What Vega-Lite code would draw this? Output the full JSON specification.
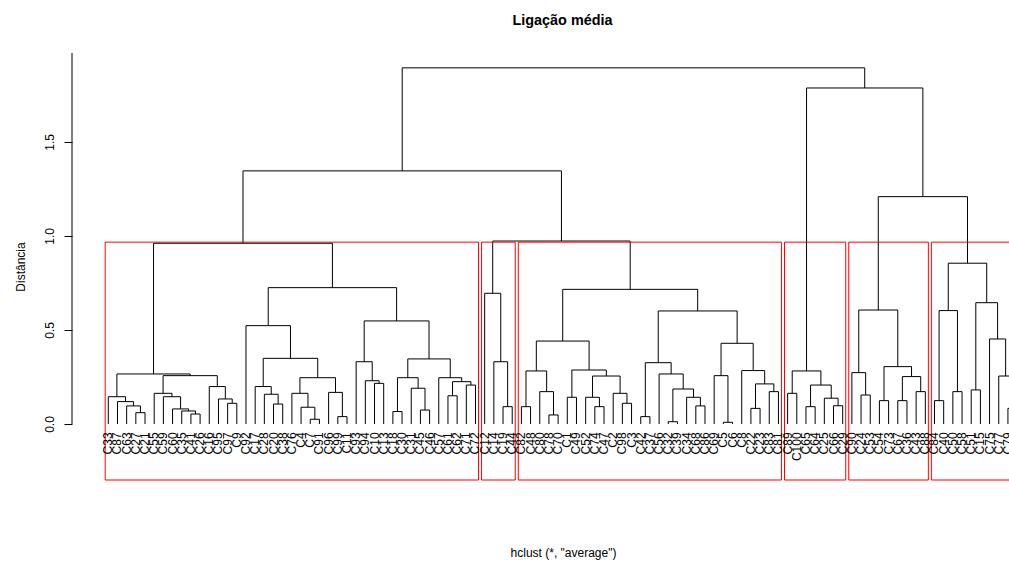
{
  "$schema": "https://vega.github.io/schema/vega-lite/v6.json",
  "width": 937,
  "height": 427,
  "autosize": {"type": "none"},
  "padding": {"left": 72, "top": 53, "right": 0, "bottom": 81},
  "background": "white",
  "config": {"view": {"stroke": null}},
  "title": {"text": "Ligação média", "font": "Liberation Sans", "fontSize": 14.4, "fontWeight": "bold", "color": "black", "anchor": "middle", "dx": 22, "offset": 24},
  "datasets": {
    "merges": [
      {"xl":4,"hl":0,"xr":5,"hr":0,"h":0.060},
      {"xl":3,"hl":0,"xr":4.5,"hr":0.060,"h":0.096},
      {"xl":2,"hl":0,"xr":3.75,"hr":0.096,"h":0.119},
      {"xl":1,"hl":0,"xr":2.875,"hr":0.119,"h":0.145},
      {"xl":10,"hl":0,"xr":11,"hr":0,"h":0.053},
      {"xl":9,"hl":0,"xr":10.5,"hr":0.053,"h":0.069},
      {"xl":8,"hl":0,"xr":9.75,"hr":0.069,"h":0.080},
      {"xl":7,"hl":0,"xr":8.875,"hr":0.080,"h":0.145},
      {"xl":6,"hl":0,"xr":7.9375,"hr":0.145,"h":0.163},
      {"xl":14,"hl":0,"xr":15,"hr":0,"h":0.110},
      {"xl":13,"hl":0,"xr":14.5,"hr":0.110,"h":0.133},
      {"xl":12,"hl":0,"xr":13.75,"hr":0.133,"h":0.199},
      {"xl":6.96875,"hl":0.163,"xr":12.875,"hr":0.199,"h":0.257},
      {"xl":1.9375,"hl":0.145,"xr":9.921875,"hr":0.257,"h":0.266},
      {"xl":19,"hl":0,"xr":20,"hr":0,"h":0.106},
      {"xl":18,"hl":0,"xr":19.5,"hr":0.106,"h":0.158},
      {"xl":17,"hl":0,"xr":18.75,"hr":0.158,"h":0.199},
      {"xl":23,"hl":0,"xr":24,"hr":0,"h":0.025},
      {"xl":22,"hl":0,"xr":23.5,"hr":0.025,"h":0.089},
      {"xl":21,"hl":0,"xr":22.75,"hr":0.089,"h":0.163},
      {"xl":26,"hl":0,"xr":27,"hr":0,"h":0.039},
      {"xl":25,"hl":0,"xr":26.5,"hr":0.039,"h":0.168},
      {"xl":21.875,"hl":0.163,"xr":25.75,"hr":0.168,"h":0.246},
      {"xl":17.875,"hl":0.199,"xr":23.8125,"hr":0.246,"h":0.349},
      {"xl":16,"hl":0,"xr":20.84375,"hr":0.349,"h":0.523},
      {"xl":30,"hl":0,"xr":31,"hr":0,"h":0.216},
      {"xl":29,"hl":0,"xr":30.5,"hr":0.216,"h":0.230},
      {"xl":28,"hl":0,"xr":29.75,"hr":0.230,"h":0.331},
      {"xl":32,"hl":0,"xr":33,"hr":0,"h":0.066},
      {"xl":35,"hl":0,"xr":36,"hr":0,"h":0.074},
      {"xl":34,"hl":0,"xr":35.5,"hr":0.074,"h":0.190},
      {"xl":32.5,"hl":0.066,"xr":34.75,"hr":0.190,"h":0.246},
      {"xl":38,"hl":0,"xr":39,"hr":0,"h":0.150},
      {"xl":40,"hl":0,"xr":41,"hr":0,"h":0.207},
      {"xl":38.5,"hl":0.150,"xr":40.5,"hr":0.207,"h":0.225},
      {"xl":37,"hl":0,"xr":39.5,"hr":0.225,"h":0.246},
      {"xl":33.625,"hl":0.246,"xr":38.25,"hr":0.246,"h":0.346},
      {"xl":28.875,"hl":0.331,"xr":35.9375,"hr":0.346,"h":0.548},
      {"xl":18.421875,"hl":0.523,"xr":32.40625,"hr":0.548,"h":0.725},
      {"xl":5.9296875,"hl":0.266,"xr":25.4140625,"hr":0.725,"h":0.961},
      {"xl":44,"hl":0,"xr":45,"hr":0,"h":0.092},
      {"xl":43,"hl":0,"xr":44.5,"hr":0.092,"h":0.331},
      {"xl":42,"hl":0,"xr":43.75,"hr":0.331,"h":0.695},
      {"xl":46,"hl":0,"xr":47,"hr":0,"h":0.092},
      {"xl":49,"hl":0,"xr":50,"hr":0,"h":0.048},
      {"xl":48,"hl":0,"xr":49.5,"hr":0.048,"h":0.172},
      {"xl":46.5,"hl":0.092,"xr":48.75,"hr":0.172,"h":0.282},
      {"xl":51,"hl":0,"xr":52,"hr":0,"h":0.142},
      {"xl":54,"hl":0,"xr":55,"hr":0,"h":0.092},
      {"xl":53,"hl":0,"xr":54.5,"hr":0.092,"h":0.142},
      {"xl":57,"hl":0,"xr":58,"hr":0,"h":0.110},
      {"xl":56,"hl":0,"xr":57.5,"hr":0.110,"h":0.163},
      {"xl":53.75,"hl":0.142,"xr":56.75,"hr":0.163,"h":0.255},
      {"xl":51.5,"hl":0.142,"xr":55.25,"hr":0.255,"h":0.287},
      {"xl":47.625,"hl":0.282,"xr":53.375,"hr":0.287,"h":0.441},
      {"xl":59,"hl":0,"xr":60,"hr":0,"h":0.039},
      {"xl":62,"hl":0,"xr":63,"hr":0,"h":0.012},
      {"xl":65,"hl":0,"xr":66,"hr":0,"h":0.096},
      {"xl":64,"hl":0,"xr":65.5,"hr":0.096,"h":0.142},
      {"xl":62.5,"hl":0.012,"xr":64.75,"hr":0.142,"h":0.186},
      {"xl":61,"hl":0,"xr":63.625,"hr":0.186,"h":0.266},
      {"xl":59.5,"hl":0.039,"xr":62.3125,"hr":0.266,"h":0.326},
      {"xl":68,"hl":0,"xr":69,"hr":0,"h":0.009},
      {"xl":67,"hl":0,"xr":68.5,"hr":0.009,"h":0.257},
      {"xl":71,"hl":0,"xr":72,"hr":0,"h":0.083},
      {"xl":73,"hl":0,"xr":74,"hr":0,"h":0.172},
      {"xl":71.5,"hl":0.083,"xr":73.5,"hr":0.172,"h":0.213},
      {"xl":70,"hl":0,"xr":72.5,"hr":0.213,"h":0.284},
      {"xl":67.75,"hl":0.257,"xr":71.25,"hr":0.284,"h":0.429},
      {"xl":60.90625,"hl":0.326,"xr":69.5,"hr":0.429,"h":0.601},
      {"xl":50.5,"hl":0.441,"xr":65.203125,"hr":0.601,"h":0.716},
      {"xl":42.875,"hl":0.695,"xr":57.8515625,"hr":0.716,"h":0.973},
      {"xl":15.671875,"hl":0.961,"xr":50.36328125,"hr":0.973,"h":1.346},
      {"xl":75,"hl":0,"xr":76,"hr":0,"h":0.163},
      {"xl":77,"hl":0,"xr":78,"hr":0,"h":0.092},
      {"xl":80,"hl":0,"xr":81,"hr":0,"h":0.097},
      {"xl":79,"hl":0,"xr":80.5,"hr":0.097,"h":0.137},
      {"xl":77.5,"hl":0.092,"xr":79.75,"hr":0.137,"h":0.207},
      {"xl":75.5,"hl":0.163,"xr":78.625,"hr":0.207,"h":0.282},
      {"xl":83,"hl":0,"xr":84,"hr":0,"h":0.154},
      {"xl":82,"hl":0,"xr":83.5,"hr":0.154,"h":0.273},
      {"xl":85,"hl":0,"xr":86,"hr":0,"h":0.124},
      {"xl":87,"hl":0,"xr":88,"hr":0,"h":0.124},
      {"xl":89,"hl":0,"xr":90,"hr":0,"h":0.172},
      {"xl":87.5,"hl":0.124,"xr":89.5,"hr":0.172,"h":0.252},
      {"xl":85.5,"hl":0.124,"xr":88.5,"hr":0.252,"h":0.305},
      {"xl":82.75,"hl":0.273,"xr":87,"hr":0.305,"h":0.606},
      {"xl":91,"hl":0,"xr":92,"hr":0,"h":0.124},
      {"xl":93,"hl":0,"xr":94,"hr":0,"h":0.172},
      {"xl":91.5,"hl":0.124,"xr":93.5,"hr":0.172,"h":0.603},
      {"xl":95,"hl":0,"xr":96,"hr":0,"h":0.181},
      {"xl":99,"hl":0,"xr":100,"hr":0,"h":0.083},
      {"xl":98,"hl":0,"xr":99.5,"hr":0.083,"h":0.255},
      {"xl":97,"hl":0,"xr":98.75,"hr":0.255,"h":0.452},
      {"xl":95.5,"hl":0.181,"xr":97.875,"hr":0.452,"h":0.645},
      {"xl":92.5,"hl":0.603,"xr":96.6875,"hr":0.645,"h":0.855},
      {"xl":84.875,"hl":0.606,"xr":94.59375,"hr":0.855,"h":1.209},
      {"xl":77.0625,"hl":0.282,"xr":89.734375,"hr":1.209,"h":1.787},
      {"xl":33.017578125,"hl":1.346,"xr":83.3984375,"hr":1.787,"h":1.894}
    ],
    "boxes": [
      {"lo":0.66,"hi":41.33,"bot":-0.298,"top":0.967},
      {"lo":41.66,"hi":45.33,"bot":-0.298,"top":0.967},
      {"lo":45.66,"hi":74.33,"bot":-0.298,"top":0.967},
      {"lo":74.66,"hi":81.33,"bot":-0.298,"top":0.967},
      {"lo":81.66,"hi":90.33,"bot":-0.298,"top":0.967},
      {"lo":90.66,"hi":100.33,"bot":-0.298,"top":0.967}
    ],
    "leaves": [
      {"i":1,"label":"C33"},{"i":2,"label":"C87"},{"i":3,"label":"C63"},{"i":4,"label":"C27"},{"i":5,"label":"C21"},
      {"i":6,"label":"C55"},{"i":7,"label":"C59"},{"i":8,"label":"C60"},{"i":9,"label":"C35"},{"i":10,"label":"C41"},
      {"i":11,"label":"C26"},{"i":12,"label":"C16"},{"i":13,"label":"C95"},{"i":14,"label":"C97"},{"i":15,"label":"C9"},
      {"i":16,"label":"C92"},{"i":17,"label":"C17"},{"i":18,"label":"C28"},{"i":19,"label":"C20"},{"i":20,"label":"C38"},
      {"i":21,"label":"C76"},{"i":22,"label":"C4"},{"i":23,"label":"C7"},{"i":24,"label":"C91"},{"i":25,"label":"C96"},
      {"i":26,"label":"C99"},{"i":27,"label":"C11"},{"i":28,"label":"C93"},{"i":29,"label":"C94"},{"i":30,"label":"C10"},
      {"i":31,"label":"C13"},{"i":32,"label":"C18"},{"i":33,"label":"C30"},{"i":34,"label":"C31"},{"i":35,"label":"C45"},
      {"i":36,"label":"C46"},{"i":37,"label":"C57"},{"i":38,"label":"C61"},{"i":39,"label":"C62"},{"i":40,"label":"C71"},
      {"i":41,"label":"C72"},{"i":42,"label":"C12"},{"i":43,"label":"C14"},{"i":44,"label":"C19"},{"i":45,"label":"C44"},
      {"i":46,"label":"C82"},{"i":47,"label":"C48"},{"i":48,"label":"C80"},{"i":49,"label":"C78"},{"i":50,"label":"C70"},
      {"i":51,"label":"C1"},{"i":52,"label":"C49"},{"i":53,"label":"C52"},{"i":54,"label":"C74"},{"i":55,"label":"C47"},
      {"i":56,"label":"C2"},{"i":57,"label":"C98"},{"i":58,"label":"C3"},{"i":59,"label":"C42"},{"i":60,"label":"C37"},
      {"i":61,"label":"C56"},{"i":62,"label":"C32"},{"i":63,"label":"C39"},{"i":64,"label":"C34"},{"i":65,"label":"C68"},
      {"i":66,"label":"C86"},{"i":67,"label":"C69"},{"i":68,"label":"C5"},{"i":69,"label":"C6"},{"i":70,"label":"C8"},
      {"i":71,"label":"C22"},{"i":72,"label":"C23"},{"i":73,"label":"C83"},{"i":74,"label":"C81"},
      {"i":75,"label":"C89"},{"i":76,"label":"C100"},{"i":77,"label":"C65"},{"i":78,"label":"C64"},{"i":79,"label":"C25"},
      {"i":80,"label":"C66"},{"i":81,"label":"C29"},
      {"i":82,"label":"C90"},{"i":83,"label":"C24"},{"i":84,"label":"C53"},{"i":85,"label":"C54"},{"i":86,"label":"C73"},
      {"i":87,"label":"C67"},{"i":88,"label":"C36"},{"i":89,"label":"C43"},{"i":90,"label":"C88"},
      {"i":91,"label":"C84"},{"i":92,"label":"C40"},{"i":93,"label":"C50"},{"i":94,"label":"C58"},{"i":95,"label":"C51"},
      {"i":96,"label":"C15"},{"i":97,"label":"C75"},{"i":98,"label":"C77"},{"i":99,"label":"C79"},{"i":100,"label":"C85"}
    ]
  },
  "layer": [
    {
      "data": {"name": "merges"},
      "mark": {"type": "rule", "color": "black", "strokeWidth": 1},
      "encoding": {
        "x": {"field": "xl", "type": "quantitative", "scale": {"domain": [-2.954, 99.116], "nice": false, "zero": false},
          "axis": {"domain": false, "ticks": false, "labels": false, "grid": false, "title": "hclust (*, \"average\")", "titleFont": "Liberation Sans", "titleFontSize": 12, "titleFontWeight": "normal", "titleColor": "black", "titleX": 491, "titleY": 72, "titleBaseline": "middle", "titleAlign": "center"}},
        "x2": {"field": "xr"},
        "y": {"field": "h", "type": "quantitative", "scale": {"domain": [-0.298, 1.973], "nice": false, "zero": false},
          "axis": {"values": [0, 0.5, 1, 1.5], "format": ".1f", "domain": false, "grid": false, "tickSize": 8, "tickColor": "black", "labelAngle": 270, "labelAlign": "center", "labelBaseline": "bottom", "labelPadding": 8, "labelFlush": false, "labelOverlap": false, "labelFont": "Liberation Sans", "labelFontSize": 12, "labelColor": "black", "title": "Distância", "titleFont": "Liberation Sans", "titleFontSize": 12, "titleFontWeight": "normal", "titleColor": "black", "titlePadding": 16}}
      }
    },
    {
      "data": {"name": "merges"},
      "mark": {"type": "rule", "color": "black", "strokeWidth": 1},
      "encoding": {
        "x": {"field": "xl", "type": "quantitative"},
        "y": {"field": "hl", "type": "quantitative"},
        "y2": {"field": "h"}
      }
    },
    {
      "data": {"name": "merges"},
      "mark": {"type": "rule", "color": "black", "strokeWidth": 1},
      "encoding": {
        "x": {"field": "xr", "type": "quantitative"},
        "y": {"field": "hr", "type": "quantitative"},
        "y2": {"field": "h"}
      }
    },
    {
      "data": {"name": "boxes"},
      "mark": {"type": "rect", "filled": false, "stroke": "red", "strokeWidth": 1},
      "encoding": {
        "x": {"field": "lo", "type": "quantitative"},
        "x2": {"field": "hi"},
        "y": {"field": "bot", "type": "quantitative"},
        "y2": {"field": "top"}
      }
    },
    {
      "data": {"name": "leaves"},
      "mark": {"type": "text", "angle": 270, "align": "right", "baseline": "middle", "font": "Liberation Sans", "fontSize": 12, "color": "black"},
      "encoding": {
        "x": {"field": "i", "type": "quantitative"},
        "y": {"datum": -0.045},
        "text": {"field": "label"}
      }
    },
    {
      "data": {"values": [{}]},
      "mark": {"type": "rule", "color": "black", "strokeWidth": 1},
      "encoding": {
        "x": {"datum": -2.954},
        "y": {"datum": 0},
        "y2": {"datum": 1.973}
      }
    }
  ]
}
